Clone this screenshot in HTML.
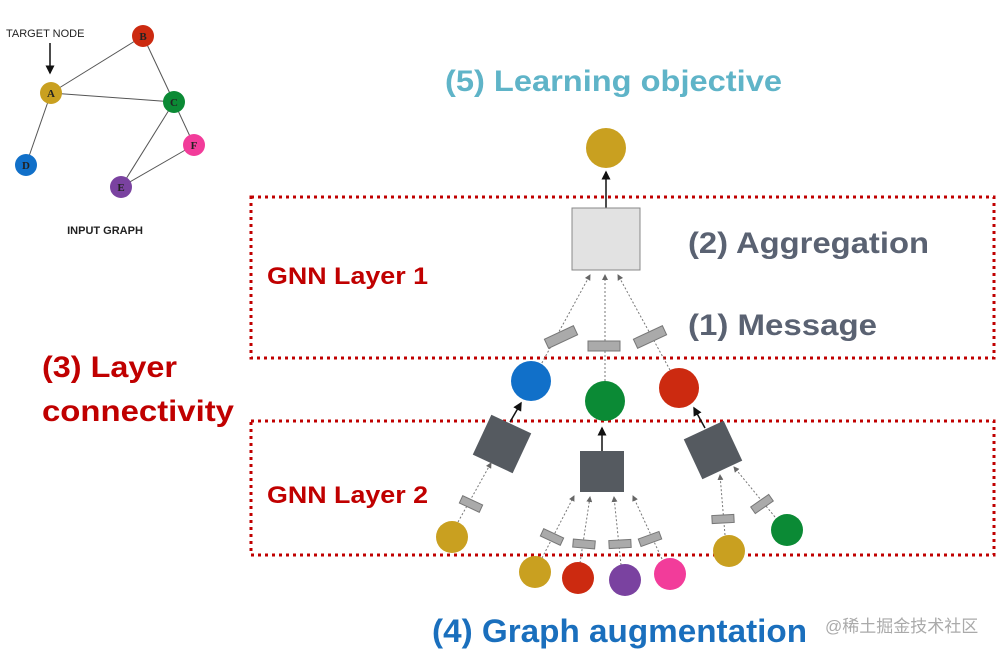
<!DOCTYPE html>
<html><head><meta charset="utf-8"><style>html,body{margin:0;padding:0;background:#fff}svg{display:block}</style></head>
<body>
<svg width="1005" height="657" viewBox="0 0 1005 657" xmlns="http://www.w3.org/2000/svg" font-family="Liberation Sans, sans-serif">
<defs>
<marker id="ah" markerWidth="6" markerHeight="6" refX="5" refY="3" orient="auto"><path d="M0,0 L6,3 L0,6 z" fill="#111"/></marker>
<marker id="ag" markerWidth="6" markerHeight="6" refX="5" refY="3" orient="auto"><path d="M0,0 L6,3 L0,6 z" fill="#666"/></marker>
</defs>
<g stroke="#555" stroke-width="1">
<line x1="51" y1="93" x2="143" y2="36"/><line x1="51" y1="93" x2="174" y2="102"/><line x1="51" y1="93" x2="26" y2="165"/>
<line x1="143" y1="36" x2="174" y2="102"/><line x1="174" y1="102" x2="121" y2="187"/><line x1="174" y1="102" x2="194" y2="145"/>
<line x1="194" y1="145" x2="121" y2="187"/>
</g>
<line x1="50" y1="43" x2="50" y2="73" stroke="#111" stroke-width="1.5" marker-end="url(#ah)"/>
<text x="6" y="37" font-size="11" fill="#222">TARGET NODE</text>
<g font-family="Liberation Serif, serif" font-weight="bold" font-size="11" text-anchor="middle" fill="#222">
<circle cx="51" cy="93" r="11" fill="#c9a020"/><text x="51" y="97">A</text>
<circle cx="143" cy="36" r="11" fill="#cc2a10"/><text x="143" y="40">B</text>
<circle cx="174" cy="102" r="11" fill="#0b8a35"/><text x="174" y="106">C</text>
<circle cx="26" cy="165" r="11" fill="#1170c9"/><text x="26" y="169">D</text>
<circle cx="121" cy="187" r="11" fill="#7a42a0"/><text x="121" y="191">E</text>
<circle cx="194" cy="145" r="11" fill="#f23c9a"/><text x="194" y="149">F</text>
</g>
<text x="105" y="234" font-size="11" font-weight="bold" text-anchor="middle" fill="#222">INPUT GRAPH</text>

<rect x="251" y="197" width="743" height="161" fill="none" stroke="#c00000" stroke-width="3" stroke-dasharray="3,4"/>
<rect x="251" y="421" width="743" height="134" fill="none" stroke="#c00000" stroke-width="3" stroke-dasharray="3,4"/>

<circle cx="606" cy="148" r="20" fill="#c9a020"/>
<line x1="606" y1="208" x2="606" y2="172" stroke="#111" stroke-width="1.5" marker-end="url(#ah)"/>
<rect x="572" y="208" width="68" height="62" fill="#e2e2e2" stroke="#888"/>
<g stroke="#777" stroke-width="1" stroke-dasharray="2,2">
<line x1="538" y1="370" x2="590" y2="275" marker-end="url(#ag)"/>
<line x1="605" y1="381" x2="605" y2="275" marker-end="url(#ag)"/>
<line x1="670" y1="370" x2="618" y2="275" marker-end="url(#ag)"/>
</g>
<g fill="#aaa" stroke="#777">
<rect x="-16" y="-5" width="32" height="10" transform="translate(561,337) rotate(-25)"/>
<rect x="-16" y="-5" width="32" height="10" transform="translate(604,346)"/>
<rect x="-16" y="-5" width="32" height="10" transform="translate(650,337) rotate(-25)"/>
</g>
<circle cx="531" cy="381" r="20" fill="#1170c9"/>
<circle cx="605" cy="401" r="20" fill="#0b8a35"/>
<circle cx="679" cy="388" r="20" fill="#cc2a10"/>

<line x1="510" y1="422" x2="521" y2="403" stroke="#111" stroke-width="1.5" marker-end="url(#ah)"/>
<line x1="602" y1="451" x2="602" y2="428" stroke="#111" stroke-width="1.5" marker-end="url(#ah)"/>
<line x1="705" y1="428" x2="694" y2="408" stroke="#111" stroke-width="1.5" marker-end="url(#ah)"/>
<g stroke="#777" stroke-width="1" stroke-dasharray="2,2">
<line x1="458" y1="522" x2="491" y2="463" marker-end="url(#ag)"/>
<line x1="542" y1="558" x2="574" y2="496" marker-end="url(#ag)"/>
<line x1="580" y1="563" x2="590" y2="497" marker-end="url(#ag)"/>
<line x1="621" y1="565" x2="614" y2="497" marker-end="url(#ag)"/>
<line x1="662" y1="559" x2="633" y2="496" marker-end="url(#ag)"/>
<line x1="725" y1="535" x2="720" y2="475" marker-end="url(#ag)"/>
<line x1="775" y1="517" x2="734" y2="467" marker-end="url(#ag)"/>
</g>
<g fill="#555a60">
<rect x="-22" y="-22" width="44" height="44" transform="translate(502,444) rotate(25)"/>
<rect x="580" y="451" width="44" height="41"/>
<rect x="-22" y="-22" width="44" height="44" transform="translate(713,450) rotate(-25)"/>
</g>
<g fill="#aaa" stroke="#777">
<rect x="-11" y="-4" width="22" height="8" transform="translate(471,504) rotate(25)"/>
<rect x="-11" y="-4" width="22" height="8" transform="translate(552,537) rotate(25)"/>
<rect x="-11" y="-4" width="22" height="8" transform="translate(584,544) rotate(5)"/>
<rect x="-11" y="-4" width="22" height="8" transform="translate(620,544) rotate(-3)"/>
<rect x="-11" y="-4" width="22" height="8" transform="translate(650,539) rotate(-20)"/>
<rect x="-11" y="-4" width="22" height="8" transform="translate(723,519) rotate(-3)"/>
<rect x="-11" y="-4" width="22" height="8" transform="translate(762,504) rotate(-35)"/>
</g>
<circle cx="452" cy="537" r="16" fill="#c9a020"/>
<circle cx="535" cy="572" r="16" fill="#c9a020"/>
<circle cx="578" cy="578" r="16" fill="#cc2a10"/>
<circle cx="625" cy="580" r="16" fill="#7a42a0"/>
<circle cx="670" cy="574" r="16" fill="#f23c9a"/>
<circle cx="729" cy="551" r="16" fill="#c9a020"/>
<circle cx="787" cy="530" r="16" fill="#0b8a35"/>

<g font-weight="bold">
<text x="445" y="91" font-size="30" fill="#5fb4c8" textLength="337" lengthAdjust="spacingAndGlyphs">(5) Learning objective</text>
<text x="688" y="253" font-size="30" fill="#5a6272" textLength="241" lengthAdjust="spacingAndGlyphs">(2) Aggregation</text>
<text x="688" y="335" font-size="30" fill="#5a6272" textLength="189" lengthAdjust="spacingAndGlyphs">(1) Message</text>
<text x="267" y="284" font-size="24" fill="#c00000" textLength="161" lengthAdjust="spacingAndGlyphs">GNN Layer 1</text>
<text x="267" y="503" font-size="24" fill="#c00000" textLength="161" lengthAdjust="spacingAndGlyphs">GNN Layer 2</text>
<text x="42" y="377" font-size="30" fill="#c00000" textLength="135" lengthAdjust="spacingAndGlyphs">(3) Layer</text>
<text x="42" y="421" font-size="30" fill="#c00000" textLength="192" lengthAdjust="spacingAndGlyphs">connectivity</text>
<text x="432" y="642" font-size="32" fill="#1a6fbd" textLength="375" lengthAdjust="spacingAndGlyphs">(4) Graph augmentation</text>
</g>
<text x="825" y="632" font-size="17" fill="#aaa" font-family="Liberation Sans, Noto Sans CJK SC, sans-serif">@稀土掘金技术社区</text>
</svg>
</body></html>
